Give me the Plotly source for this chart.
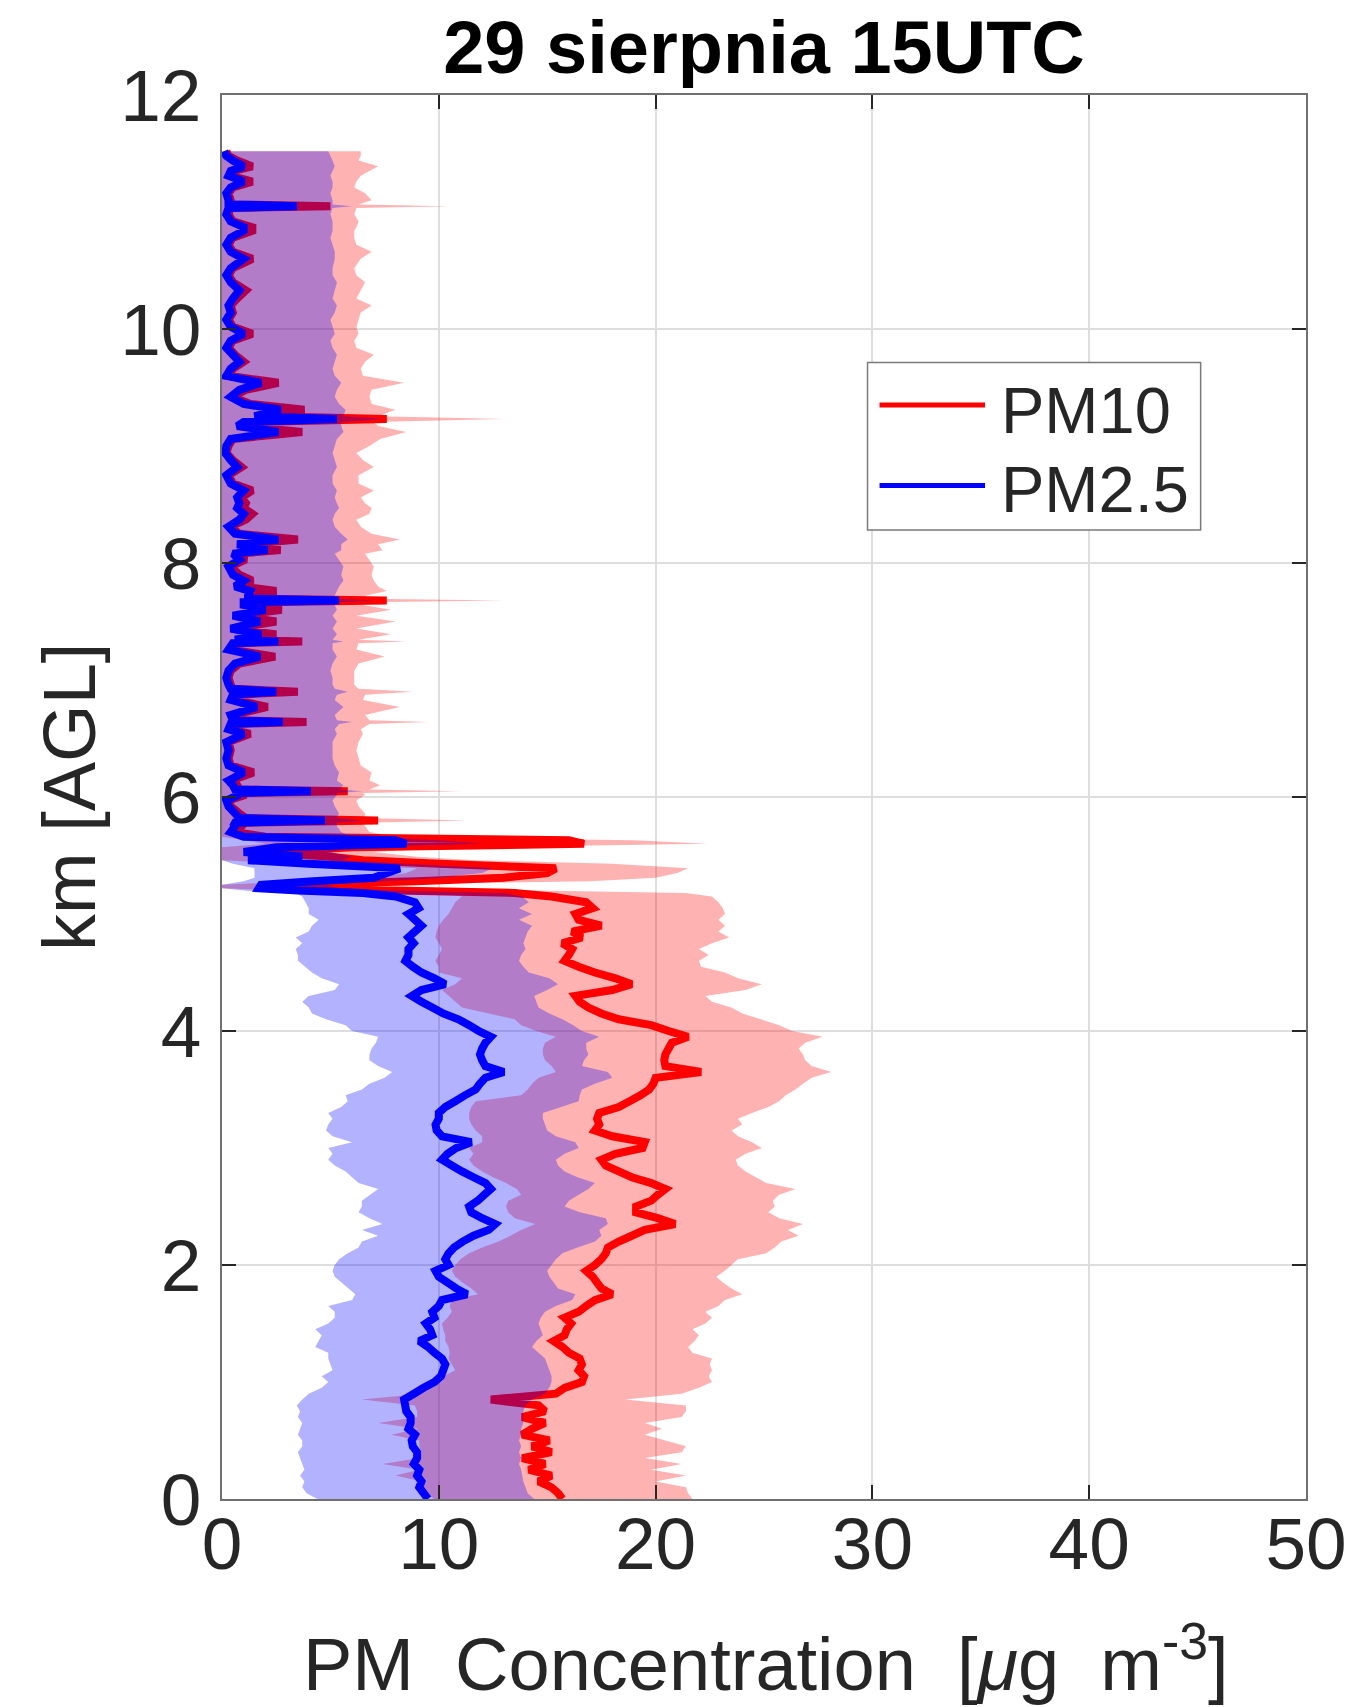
import plotly.graph_objects as go

# ---------------- data ----------------
# altitude grid, km AGL
alt = [
    0.00, 0.05, 0.10, 0.15, 0.20, 0.25, 0.30, 0.35, 0.40, 0.45,
    0.50, 0.55, 0.60, 0.65, 0.70, 0.75, 0.80, 0.85, 0.90, 0.95,
    1.00, 1.05, 1.10, 1.15, 1.20, 1.25, 1.30, 1.35, 1.40, 1.45,
    1.50, 1.55, 1.60, 1.65, 1.70, 1.75, 1.80, 1.85, 1.90, 1.95,
    2.00, 2.05, 2.10, 2.15, 2.20, 2.25, 2.30, 2.35, 2.40, 2.45,
    2.50, 2.55, 2.60, 2.65, 2.70, 2.75, 2.80, 2.85, 2.90, 2.95,
    3.00, 3.05, 3.10, 3.15, 3.20, 3.25, 3.30, 3.35, 3.40, 3.45,
    3.50, 3.55, 3.60, 3.65, 3.70, 3.75, 3.80, 3.85, 3.90, 3.95,
    4.00, 4.05, 4.10, 4.15, 4.20, 4.25, 4.30, 4.35, 4.40, 4.45,
    4.50, 4.55, 4.60, 4.65, 4.70, 4.75, 4.80, 4.85, 4.90, 4.95,
    5.00, 5.05, 5.10, 5.15,
    5.18, 5.20, 5.22, 5.25, 5.28, 5.31, 5.35, 5.39, 5.43, 5.46,
    5.49, 5.53, 5.57, 5.60, 5.63, 5.66, 5.70, 5.75, 5.78, 5.80, 5.82,
    5.86, 5.92, 5.97, 6.02, 6.035, 6.05, 6.065, 6.10, 6.14, 6.21,
    6.27, 6.33, 6.40, 6.47, 6.54, 6.58, 6.625, 6.64, 6.655, 6.70,
    6.77, 6.83, 6.875, 6.90, 6.925, 6.96, 7.02, 7.08, 7.14, 7.20,
    7.26, 7.315, 7.33, 7.345, 7.39, 7.44, 7.50, 7.55, 7.60, 7.64,
    7.665, 7.68, 7.695, 7.72, 7.76, 7.80, 7.85, 7.90, 7.97, 8.03,
    8.08, 8.11, 8.16, 8.20, 8.25, 8.31, 8.37, 8.42, 8.47, 8.51,
    8.56, 8.62, 8.68, 8.75, 8.82, 8.88, 8.94, 9.00, 9.06, 9.12,
    9.17, 9.205, 9.23, 9.255, 9.31, 9.36, 9.42, 9.48, 9.54, 9.60,
    9.66, 9.72, 9.78, 9.84, 9.90, 9.96, 10.02, 10.08, 10.14, 10.20,
    10.26, 10.33, 10.40, 10.46, 10.52, 10.60, 10.66, 10.72, 10.78, 10.84,
    10.87, 10.92, 10.98, 11.035, 11.05, 11.065, 11.10, 11.16, 11.21, 11.26,
    11.31, 11.35, 11.39, 11.44, 11.48, 11.52,
]

# PM2.5 mean profile (blue line), ug m-3
pm25_mean = [
    9.5, 9.3, 9.1, 9.2, 9.0, 9.1, 8.85, 9.0, 9.0, 8.8,
    8.75, 8.9, 8.6, 8.7, 8.7, 8.5, 8.45, 8.4, 8.85, 9.3,
    9.8, 10.1, 10.2, 10.3, 10.15, 9.8, 9.5, 9.1, 9.7, 9.6,
    9.4, 9.8, 9.7, 10.0, 10.15, 11.3, 10.8, 10.4, 10.0, 9.85,
    10.45, 10.3, 10.45, 10.7, 11.1, 11.6, 12.3, 12.6, 12.0, 11.5,
    11.4, 11.8, 12.1, 12.4, 12.15, 11.6, 11.07, 10.6, 10.15, 10.4,
    10.8, 11.5, 10.15, 9.9, 9.85, 10.0, 10.0, 10.3, 10.76, 11.2,
    11.7, 11.9, 12.15, 13.0, 12.15, 12.0, 11.9, 12.0, 12.15, 12.4,
    11.84, 11.4, 10.9, 10.2, 9.7, 9.2, 8.76, 9.2, 10.3, 9.8,
    9.2, 8.8, 8.46, 8.6, 8.6, 8.84, 8.6, 8.9, 9.2, 8.9,
    8.6, 9.07, 8.9, 8.0,
    6.5, 3.5, 1.7, 1.8, 4.2, 7.0, 7.6, 8.2, 4.0, 1.2,
    3.7, 1.0, 2.5, 8.5, 8.0, 1.0, 0.4, 0.6, 0.5, 4.75, 0.8,
    0.6, 0.3, 0.2, 0.8, 0.6, 4.1, 0.6, 0.5, 0.3, 1.0,
    0.3, 0.2, 0.3, 0.2, 1.0, 0.3, 0.4, 2.8, 0.5, 0.4,
    1.6, 0.4, 0.5, 2.5, 0.4, 0.3, 0.2, 0.3, 0.6, 1.75,
    0.3, 0.5, 2.6, 0.6, 1.8, 0.4, 1.75, 0.5, 2.0, 1.0,
    1.0, 5.4, 1.2, 1.2, 1.3, 0.6, 1.0, 0.5, 0.3, 0.8,
    0.5, 2.1, 0.7, 2.6, 0.6, 0.3, 0.8, 1.0, 0.7, 0.8,
    0.7, 1.0, 0.4, 0.2, 0.7, 0.4, 0.15, 0.2, 0.4, 2.6,
    0.7, 1.0, 5.3, 1.5, 2.7, 1.0, 0.4, 0.8, 1.8, 0.2,
    0.4, 0.8, 0.5, 0.2, 0.4, 1.0, 0.4, 0.2, 0.4, 0.3,
    0.5, 0.8, 0.4, 0.2, 0.4, 1.0, 0.4, 0.2, 0.4, 1.0,
    1.0, 0.4, 0.2, 0.3, 3.45, 0.3, 0.3, 0.2, 0.4, 1.0,
    0.3, 0.4, 1.0, 0.5, 0.2, 0.1,
]

# PM2.5 lower edge of shaded spread
pm25_lo = [
    4.4, 3.9, 3.7, 3.8, 3.6, 3.8, 3.7, 3.6, 3.5, 3.7,
    3.7, 3.5, 3.6, 3.7, 3.5, 3.6, 3.45, 3.7, 4.0, 4.6,
    4.9, 4.6, 5.1, 5.0, 4.9, 4.9, 4.3, 4.46, 4.6, 4.3,
    4.9, 5.2, 5.2, 4.9, 6.0, 6.15, 5.8, 5.5, 5.2, 5.1,
    5.2, 5.4, 5.8, 6.3, 6.45, 7.2, 6.45, 7.4, 6.8, 6.3,
    6.45, 6.45, 6.8, 7.2, 6.3, 6.0, 5.7, 5.2, 4.9, 5.1,
    4.9, 6.0, 5.1, 4.8, 4.9, 5.1, 4.9, 5.5, 5.8, 5.7,
    6.45, 6.8, 7.5, 7.85, 7.2, 6.8, 6.8, 6.9, 7.1, 7.2,
    6.0, 5.7, 4.8, 4.15, 4.0, 3.7, 4.0, 5.2, 5.4, 4.6,
    4.15, 3.85, 3.5, 3.5, 3.4, 3.7, 3.4, 4.0, 4.15, 4.46,
    4.0, 4.0, 3.85, 3.7,
    3.4, 1.0, 0.0, 0.0, 1.0, 1.5, 1.5, 1.5, 0.5, 0.0,
    0.0, 0.0, 0.0, 0.0, 0.0, 0.0, 0.0, 0.0, 0.0, 0.0, 0.0,
    0.0, 0.0, 0.0, 0.0, 0.0, 0.0, 0.0, 0.0, 0.0, 0.0,
    0.0, 0.0, 0.0, 0.0, 0.0, 0.0, 0.0, 0.0, 0.0, 0.0,
    0.0, 0.0, 0.0, 0.0, 0.0, 0.0, 0.0, 0.0, 0.0, 0.0,
    0.0, 0.0, 0.0, 0.0, 0.0, 0.0, 0.0, 0.0, 0.0, 0.0,
    0.0, 0.0, 0.0, 0.0, 0.0, 0.0, 0.0, 0.0, 0.0, 0.0,
    0.0, 0.0, 0.0, 0.0, 0.0, 0.0, 0.0, 0.0, 0.0, 0.0,
    0.0, 0.0, 0.0, 0.0, 0.0, 0.0, 0.0, 0.0, 0.0, 0.0,
    0.0, 0.0, 0.0, 0.0, 0.0, 0.0, 0.0, 0.0, 0.0, 0.0,
    0.0, 0.0, 0.0, 0.0, 0.0, 0.0, 0.0, 0.0, 0.0, 0.0,
    0.0, 0.0, 0.0, 0.0, 0.0, 0.0, 0.0, 0.0, 0.0, 0.0,
    0.0, 0.0, 0.0, 0.0, 0.0, 0.0, 0.0, 0.0, 0.0, 0.0,
    0.0, 0.0, 0.0, 0.0, 0.0, 0.0,
]

# PM2.5 upper edge of shaded spread
pm25_hi = [
    14.4, 14.1, 14.0, 13.9, 13.85, 13.8, 13.7, 13.8, 13.7, 13.8,
    13.7, 13.8, 13.8, 13.9, 13.85, 13.9, 14.0, 14.3, 14.9, 15.1,
    15.2, 15.2, 15.1, 15.0, 14.9, 14.6, 14.3, 14.5, 14.8, 14.7,
    14.6, 14.7, 14.9, 15.4, 16.15, 16.3, 15.5, 15.3, 15.1, 15.0,
    15.2, 15.4, 15.7, 16.4, 17.2, 17.5, 17.4, 17.8, 17.7, 16.5,
    15.8, 16.0, 16.45, 16.9, 17.2, 16.4, 15.8, 15.5, 15.4, 15.8,
    16.45, 16.3, 15.4, 15.0, 14.9, 14.8, 14.8, 15.6, 16.45, 16.5,
    16.6, 17.2, 18.0, 17.8, 16.6, 16.7, 16.9, 16.8, 16.8, 17.4,
    16.6, 16.2, 15.7, 15.1, 14.6, 14.5, 14.4, 15.0, 15.5, 15.1,
    14.15, 13.9, 13.7, 13.8, 14.0, 13.9, 14.0, 14.1, 14.3, 13.7,
    14.3, 13.7, 14.15, 13.85,
    13.0, 8.0, 5.5, 4.8, 7.5, 10.0, 12.0, 12.5, 8.5, 5.5,
    6.0, 5.0, 6.0, 12.0, 10.0, 6.0, 5.5, 5.3, 5.3, 6.5, 5.3,
    5.4, 5.2, 5.1, 5.3, 5.3, 6.5, 5.4, 5.6, 5.3, 5.4,
    5.2, 5.1, 5.1, 5.1, 5.3, 5.2, 5.4, 6.0, 5.3, 5.2,
    5.6, 5.2, 5.3, 5.8, 5.2, 5.1, 5.1, 5.0, 5.1, 5.3,
    5.1, 5.1, 5.6, 5.1, 5.3, 5.1, 5.3, 5.1, 5.3, 5.2,
    5.3, 7.0, 5.3, 5.2, 5.3, 5.4, 5.6, 5.5, 5.6, 5.4,
    5.2, 5.5, 5.5, 5.8, 5.5, 5.2, 5.1, 5.2, 5.4, 5.3,
    5.2, 5.3, 5.1, 5.1, 5.3, 5.2, 5.1, 5.2, 5.3, 5.6,
    5.5, 5.5, 7.5, 5.6, 5.7, 5.4, 5.2, 5.3, 5.5, 5.2,
    5.1, 5.2, 5.3, 5.1, 5.0, 5.2, 5.1, 5.0, 5.2, 5.3,
    5.1, 5.2, 5.3, 5.1, 5.1, 5.2, 5.2, 5.1, 5.0, 5.1,
    5.1, 5.1, 5.0, 5.1, 6.0, 5.1, 5.1, 5.0, 5.1, 5.1,
    5.0, 5.1, 5.2, 5.1, 5.0, 4.9,
]

# PM10 mean profile (red line)
pm10_mean = [
    15.7, 15.5, 15.2, 14.6, 15.2, 14.15, 14.9, 13.85, 15.2, 14.3,
    15.1, 13.85, 14.3, 14.9, 13.85, 14.9, 14.6, 12.4, 15.4, 15.8,
    16.6, 16.7, 16.45, 16.6, 16.5, 16.0, 15.7, 15.3, 15.8, 15.9,
    16.1, 15.8, 16.45, 16.8, 17.2, 18.0, 17.5, 17.3, 17.1, 16.8,
    17.2, 17.5, 17.7, 17.8, 18.3, 18.9, 19.5, 20.9, 20.1, 19.1,
    19.1, 19.8, 20.1, 20.45, 19.8, 18.9, 18.3, 17.7, 17.5, 18.15,
    19.4, 19.5, 18.0, 17.2, 17.4, 17.3, 17.4, 18.3, 18.8, 19.3,
    19.7, 19.9, 20.0, 22.1, 20.45, 20.4, 20.45, 20.6, 20.75, 21.5,
    20.6, 19.8, 18.3, 17.5, 16.9, 16.5, 16.3, 18.0, 18.9, 18.15,
    17.2, 16.45, 15.8, 16.0, 16.15, 15.7, 16.6, 16.15, 17.5, 16.45,
    16.3, 17.1, 16.8, 15.2,
    13.5, 8.0, 4.0, 2.6, 9.0, 13.0, 15.0, 15.4, 10.0, 6.5,
    5.0, 2.0, 6.0, 16.7, 16.0, 2.0, 0.6, 0.9, 0.7, 7.2, 1.1,
    0.8, 0.4, 0.3, 1.1, 0.8, 5.8, 0.8, 0.7, 0.4, 1.45,
    0.4, 0.3, 0.4, 0.3, 1.3, 0.4, 0.5, 3.9, 0.7, 0.5,
    2.1, 0.6, 0.7, 3.5, 0.5, 0.4, 0.3, 0.4, 0.8, 2.45,
    0.4, 0.7, 3.7, 0.8, 2.5, 0.5, 2.5, 0.7, 2.75, 1.5,
    1.4, 7.6, 1.6, 1.6, 2.5, 0.9, 1.4, 0.8, 0.4, 1.1,
    0.7, 2.7, 1.0, 3.5, 0.8, 0.4, 1.1, 1.4, 1.0, 1.1,
    0.9, 1.4, 0.5, 0.3, 0.9, 0.5, 0.2, 0.3, 0.5, 3.7,
    0.9, 1.3, 7.6, 2.0, 3.8, 1.3, 0.5, 1.1, 2.6, 0.3,
    0.5, 1.0, 0.6, 0.3, 0.5, 1.4, 0.5, 0.3, 0.5, 0.4,
    0.7, 1.1, 0.5, 0.3, 0.5, 1.4, 0.5, 0.3, 0.5, 1.4,
    1.4, 0.5, 0.3, 0.4, 5.0, 0.4, 0.4, 0.3, 0.5, 1.4,
    0.4, 0.5, 1.4, 0.7, 0.3, 0.2,
]

# PM10 lower edge of shaded spread
pm10_lo = [
    9.8, 9.4, 9.2, 9.2, 8.0, 9.1, 7.4, 9.1, 9.2, 9.1,
    9.1, 7.8, 9.07, 7.2, 9.0, 9.0, 8.9, 6.45, 9.2, 9.3,
    9.5, 10.2, 10.76, 10.6, 10.45, 10.5, 10.45, 10.3, 10.3, 10.2,
    10.15, 10.4, 10.6, 10.5, 10.6, 11.8, 11.5, 11.1, 10.76, 10.6,
    10.76, 11.0, 11.4, 12.0, 12.75, 13.3, 13.8, 14.45, 13.5, 13.2,
    13.1, 13.2, 13.8, 13.6, 13.1, 12.5, 12.0, 11.6, 11.4, 11.6,
    11.4, 12.0, 12.0, 11.7, 11.5, 11.4, 11.4, 11.5, 11.7, 13.8,
    14.1, 14.3, 14.6, 15.4, 15.2, 14.9, 14.8, 14.8, 14.9, 15.4,
    14.5, 13.8, 13.5, 12.3, 11.07, 10.76, 10.45, 10.15, 10.76, 11.07,
    10.0, 10.0, 9.84, 10.0, 10.15, 10.0, 9.84, 9.9, 10.0, 10.2,
    10.45, 10.6, 10.76, 11.07,
    10.0, 3.0, 0.0, 0.0, 4.0, 7.0, 8.5, 9.0, 3.0, 0.0,
    0.0, 0.0, 0.0, 2.0, 1.0, 0.0, 0.0, 0.0, 0.0, 0.0, 0.0,
    0.0, 0.0, 0.0, 0.0, 0.0, 0.0, 0.0, 0.0, 0.0, 0.0,
    0.0, 0.0, 0.0, 0.0, 0.0, 0.0, 0.0, 0.0, 0.0, 0.0,
    0.0, 0.0, 0.0, 0.0, 0.0, 0.0, 0.0, 0.0, 0.0, 0.0,
    0.0, 0.0, 0.0, 0.0, 0.0, 0.0, 0.0, 0.0, 0.0, 0.0,
    0.0, 0.0, 0.0, 0.0, 0.0, 0.0, 0.0, 0.0, 0.0, 0.0,
    0.0, 0.0, 0.0, 0.0, 0.0, 0.0, 0.0, 0.0, 0.0, 0.0,
    0.0, 0.0, 0.0, 0.0, 0.0, 0.0, 0.0, 0.0, 0.0, 0.0,
    0.0, 0.0, 0.0, 0.0, 0.0, 0.0, 0.0, 0.0, 0.0, 0.0,
    0.0, 0.0, 0.0, 0.0, 0.0, 0.0, 0.0, 0.0, 0.0, 0.0,
    0.0, 0.0, 0.0, 0.0, 0.0, 0.0, 0.0, 0.0, 0.0, 0.0,
    0.0, 0.0, 0.0, 0.0, 0.0, 0.0, 0.0, 0.0, 0.0, 0.0,
    0.0, 0.0, 0.0, 0.0, 0.0, 0.0,
]

# PM10 upper edge of shaded spread
pm10_hi = [
    21.7, 21.5, 21.4, 20.0, 21.4, 19.8, 21.2, 19.5, 21.2, 21.4,
    20.45, 19.5, 20.3, 19.5, 21.2, 21.4, 21.4, 18.6, 21.2, 22.0,
    22.6, 22.45, 22.6, 22.5, 22.6, 21.7, 21.5, 21.8, 22.0, 21.7,
    22.3, 22.6, 22.3, 22.9, 23.2, 24.0, 23.5, 23.1, 22.8, 23.2,
    23.5, 23.8, 25.1, 25.5, 25.8, 26.6, 26.1, 26.8, 25.7, 25.2,
    25.5, 25.4, 25.7, 26.45, 25.1, 24.6, 24.15, 23.8, 23.7, 24.15,
    24.9, 24.45, 23.8, 23.5, 24.0, 23.8, 24.45, 25.2, 25.7, 26.0,
    26.45, 26.8, 27.2, 28.1, 27.2, 26.9, 26.8, 26.6, 26.9, 27.7,
    26.3, 25.7, 24.9, 24.0, 23.5, 22.6, 22.3, 24.15, 24.9, 23.8,
    23.2, 22.1, 22.0, 22.45, 22.0, 22.6, 23.4, 22.9, 23.2, 22.9,
    23.2, 23.1, 22.9, 22.6,
    21.4, 14.0, 8.0, 6.5, 17.0, 20.0, 21.0, 21.5, 18.0, 11.7,
    9.0, 7.0, 11.0, 22.4, 19.0, 8.0, 6.8, 6.6, 6.5, 11.3, 6.6,
    6.6, 6.3, 6.2, 6.6, 6.5, 11.0, 6.8, 7.3, 6.8, 6.9,
    6.4, 6.3, 6.2, 6.3, 6.5, 6.4, 6.8, 9.5, 6.8, 6.6,
    8.2, 6.5, 6.6, 8.8, 6.3, 6.1, 6.1, 6.1, 6.3, 7.5,
    6.2, 6.3, 8.5, 6.3, 7.8, 6.2, 8.0, 6.2, 7.8, 6.5,
    6.6, 13.0, 6.8, 6.6, 7.6, 7.2, 7.0, 6.9, 7.0, 6.8,
    6.6, 7.4, 7.2, 8.2, 6.9, 6.4, 6.2, 6.8, 6.9, 6.6,
    6.4, 7.0, 6.3, 6.3, 7.0, 6.5, 6.2, 6.8, 7.3, 8.5,
    7.2, 7.0, 13.0, 7.2, 8.0, 6.9, 6.8, 6.9, 8.4, 6.5,
    6.4, 6.6, 7.0, 6.2, 6.1, 6.3, 6.2, 6.3, 6.4, 6.9,
    6.2, 6.4, 6.6, 6.2, 6.1, 6.4, 6.9, 6.2, 6.1, 6.1,
    6.2, 6.3, 6.1, 6.2, 10.5, 6.3, 6.9, 6.6, 6.1, 6.2,
    6.4, 6.8, 7.2, 6.3, 6.4, 6.4,
]

x_ticks = [0, 10, 20, 30, 40, 50]
y_ticks = [0, 2, 4, 6, 8, 10, 12]
series_names = ["PM10", "PM2.5"]

n = len(alt)
for s in (pm25_mean, pm25_lo, pm25_hi, pm10_mean, pm10_lo, pm10_hi):
    assert len(s) == n, (len(s), n)

# ---------------- figure ----------------
FONT = "Liberation Sans, Arial, Helvetica, sans-serif"
RED = "#FF0000"
BLUE = "#0000FF"
RED_FILL = "rgba(255,0,0,0.3)"
BLUE_FILL = "rgba(0,0,255,0.3)"

# the page body adds an 8 px offset, so the figure is 8 px smaller
FIG_W, FIG_H = 1357, 1699


def band(lo, hi, fillcolor):
    return go.Scatter(
        x=list(hi) + list(lo)[::-1],
        y=list(alt) + list(alt)[::-1],
        mode="lines",
        fill="toself",
        fillcolor=fillcolor,
        line=dict(width=0),
        hoverinfo="skip",
        showlegend=False,
    )


fig = go.Figure()
fig.add_trace(band(pm10_lo, pm10_hi, RED_FILL))
fig.add_trace(go.Scatter(x=pm10_mean, y=alt, mode="lines", name=series_names[0],
                         line=dict(color=RED, width=8, simplify=False), showlegend=False))
fig.add_trace(band(pm25_lo, pm25_hi, BLUE_FILL))
fig.add_trace(go.Scatter(x=pm25_mean, y=alt, mode="lines", name=series_names[1],
                         line=dict(color=BLUE, width=8, simplify=False), showlegend=False))

axis_common = dict(
    ticks="inside", ticklen=14, tickwidth=2, tickcolor="#262626",
    showline=True, linecolor="#707070", linewidth=2, mirror="ticks",
    showgrid=True, gridcolor="#dedede", gridwidth=1.5, zeroline=False,
    tickfont=dict(family=FONT, size=73, color="#262626"),
)

fig.update_layout(
    width=FIG_W, height=FIG_H,
    margin=dict(l=214, r=59, t=87, b=208),
    paper_bgcolor="white", plot_bgcolor="white",
    showlegend=False,
    font=dict(family=FONT, color="#262626"),
    title=dict(text="<b>29 sierpnia 15UTC</b>", x=0.5, xref="paper", xanchor="center",
               y=1 - 39 / FIG_H, yref="container", yanchor="middle",
               font=dict(family=FONT, size=74, color="#000000")),
    xaxis=dict(range=[0, 50], tickmode="array", tickvals=x_ticks,
               ticktext=[str(v) for v in x_ticks], ticklabelstandoff=-20, **axis_common),
    yaxis=dict(range=[0, 12], tickmode="array", tickvals=y_ticks,
               ticktext=[str(v) for v in y_ticks], ticklabelstandoff=4, **axis_common),
)

# axis titles
fig.add_annotation(text="PM \u00a0Concentration \u00a0[<i>\u03bc</i>g \u00a0m<sup>-3</sup>]",
                   xref="paper", yref="paper", x=0.502, y=(1499 - 1659) / 1404,
                   xanchor="center", yanchor="middle", showarrow=False,
                   font=dict(family=FONT, size=74, color="#262626"))
fig.add_annotation(text="km [AGL]", textangle=-90,
                   xref="paper", yref="paper", x=(69 - 222) / 1084, y=0.5,
                   xanchor="center", yanchor="middle", showarrow=False,
                   font=dict(family=FONT, size=74, color="#262626"))

# legend (drawn by hand to match the long MATLAB line samples)
fig.add_shape(type="rect", xref="paper", yref="paper",
              x0=0.5955, x1=0.9028, y0=0.6902, y1=0.8095,
              line=dict(color="#7a7a7a", width=1.5), fillcolor="white", layer="above")
for yl, col, name, yt in [(0.7792, RED, series_names[0], 0.7756),
                          (0.7219, BLUE, series_names[1], 0.7187)]:
    fig.add_shape(type="line", xref="paper", yref="paper",
                  x0=0.6066, x1=0.7039, y0=yl, y1=yl,
                  line=dict(color=col, width=5), layer="above")
    fig.add_annotation(text=name, xref="paper", yref="paper", x=0.7168, y=yt,
                       xanchor="left", yanchor="middle", showarrow=False,
                       font=dict(family=FONT, size=65, color="#262626"))

fig.write_html("out.html")
